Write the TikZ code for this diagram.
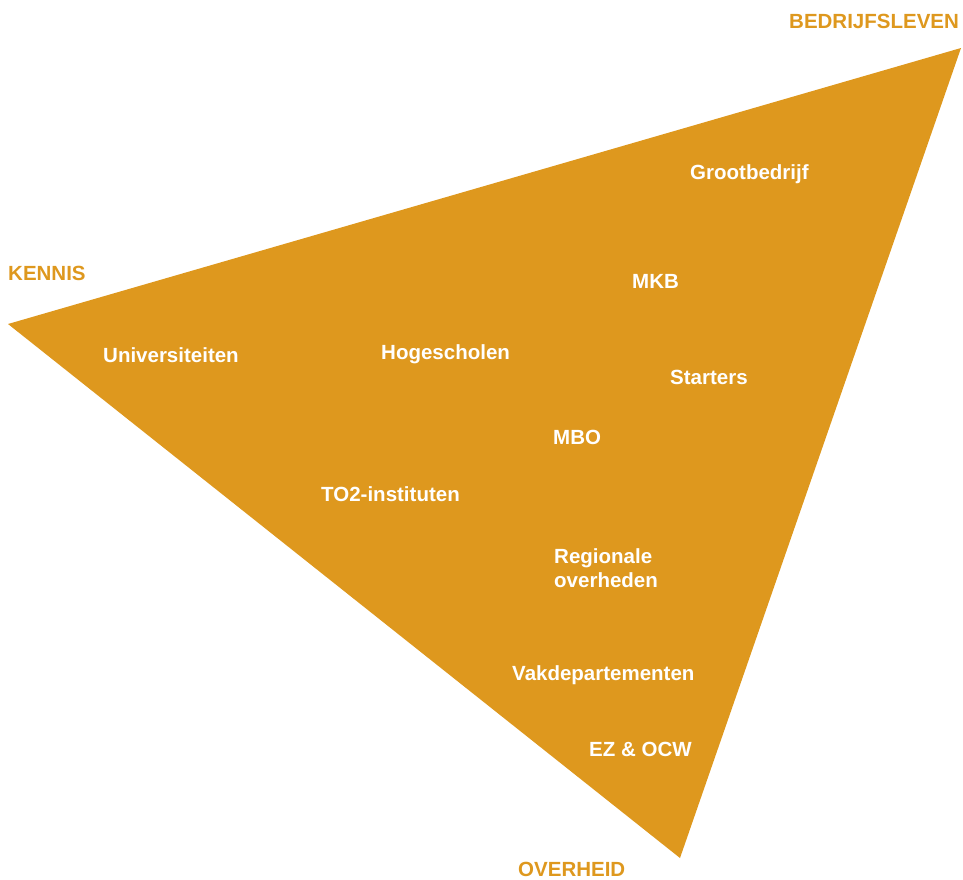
\documentclass[tikz,border=0pt]{standalone}
\usepackage{fontspec}
\setmainfont{Liberation Sans}
\definecolor{tri}{RGB}{222,152,30}
\begin{document}
\begin{tikzpicture}[x=1pt,y=-1pt,
  lbl/.style={anchor=base west,inner sep=0pt,font=\fontsize{20.5}{24}\selectfont\bfseries},
  inlbl/.style={lbl,text=white},
  outlbl/.style={lbl,text=tri}]
\useasboundingbox (0,0) rectangle (963,880);
\coordinate (K) at (8,324);
\coordinate (B) at (961,48);
\coordinate (O) at (680,858);
\fill[tri] (K) -- (B) -- (O) -- cycle;
\node[outlbl] (kennis) at (8,280) {KENNIS};
\node[outlbl] (bedrijf) at (789,29) {BEDRIJFSLEVEN};
\node[outlbl] (overheid) at (518,876.5) {OVERHEID};
\node[inlbl] (groot) at (690,179) {Grootbedrijf};
\node[inlbl] (mkb) at (632,288) {MKB};
\node[inlbl] (univ) at (103,362) {Universiteiten};
\node[inlbl] (hoge) at (381,359) {Hogescholen};
\node[inlbl] (start) at (670,384) {Starters};
\node[inlbl] (mbo) at (553,444) {MBO};
\node[inlbl] (to2) at (321,501) {TO2-instituten};
\node[inlbl,align=left,anchor=north west] (reg) at (554,548) {Regionale\\overheden};
\node[inlbl] (vak) at (512,680) {Vakdepartementen};
\node[inlbl] (ez) at (589,756) {EZ \& OCW};
\end{tikzpicture}
\end{document}
